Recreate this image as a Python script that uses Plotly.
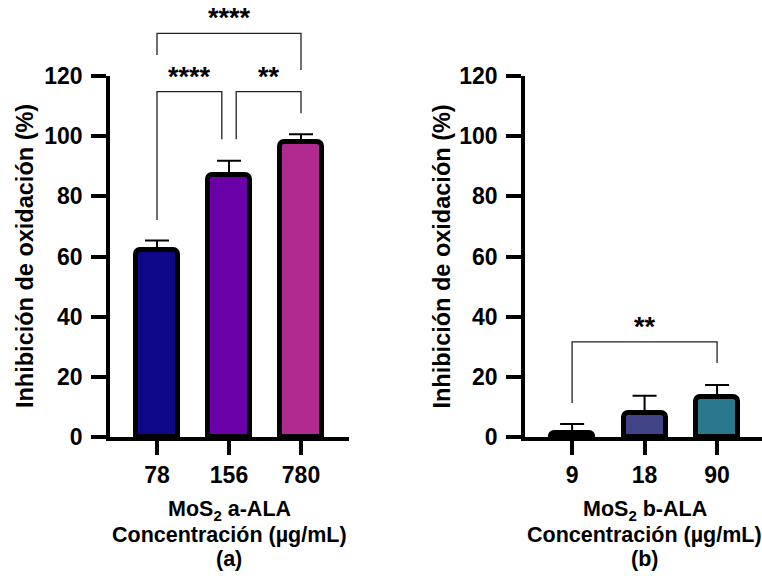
import plotly.graph_objects as go

# ---- data -------------------------------------------------------------
conc_a = ["78", "156", "780"]          # MoS2 a-ALA, µg/mL
mean_a = [62.2, 87.2, 98.1]
sd_a = [3.1, 4.6, 2.5]

conc_b = ["9", "18", "90"]             # MoS2 b-ALA, µg/mL
mean_b = [1.3, 8.1, 13.4]
sd_b = [3.0, 5.6, 3.9]

y_ticks = [0, 20, 40, 60, 80, 100, 120]

# ---- styling ------------------------------------------------------------
colors_a = ["#0d0887", "#6a00a8", "#b12a90"]
colors_b = ["#440154", "#414487", "#2a788e"]
FONT = "Liberation Sans, Arial, sans-serif"
Y_MAX = 120
Y_TITLE = "Inhibición de oxidación (%)"

# significance brackets: (axis, x_left, x_right, level, left_leg_end, right_leg_end, label)
brackets = [
    ("x", 0.0, 2.0, 134.2, 127.0, 122.0, "****"),
    ("x", 0.0, 0.9, 114.8, 72.1, 99.0, "****"),
    ("x", 1.1, 2.0, 114.8, 99.0, 107.6, "**"),
    ("x2", 0.0, 2.0, 31.6, 11.3, 24.6, "**"),
]


def bold(size):
    return dict(family=FONT, size=size, color="black", weight="bold")


def bar_trace(means, sds, colors, xaxis, yaxis):
    return go.Bar(
        x=list(range(len(means))),
        y=means,
        width=0.58,
        marker=dict(color=colors, line=dict(color="black", width=5), cornerradius=5),
        error_y=dict(type="data", array=sds, arrayminus=[0] * len(sds), symmetric=False,
                     color="black", thickness=2, width=12),
        xaxis=xaxis,
        yaxis=yaxis,
        showlegend=False,
    )


fig = go.Figure()
fig.add_trace(bar_trace(mean_a, sd_a, colors_a, "x", "y"))
fig.add_trace(bar_trace(mean_b, sd_b, colors_b, "x2", "y2"))


def x_axis(domain, rng, labels, anchor):
    return dict(domain=domain, range=rng, anchor=anchor, tickvals=list(range(len(labels))),
                ticktext=labels, ticks="outside", ticklen=14, tickwidth=4, tickcolor="black",
                showline=True, linewidth=4, linecolor="black", showgrid=False, zeroline=False,
                tickfont=bold(23), fixedrange=True)


def y_axis(anchor):
    return dict(range=[0, Y_MAX], anchor=anchor, tickvals=y_ticks, ticks="outside", ticklen=15,
                tickwidth=3.5, tickcolor="black", showline=True, linewidth=3.5, linecolor="black",
                showgrid=False, zeroline=False, tickfont=bold(23), ticklabelstandoff=4,
                fixedrange=True)


fig.update_layout(
    width=762, height=576,
    margin=dict(l=110, r=0, t=76, b=139),
    paper_bgcolor="white", plot_bgcolor="white",
    xaxis=x_axis([0, 0.3666], [-0.653, 2.667], conc_a, "y"),
    yaxis=y_axis("x"),
    xaxis2=x_axis([0.6365, 1], [-0.65, 2.62], conc_b, "y2"),
    yaxis2=y_axis("x2"),
    bargap=0,
)

# brackets and stars
for ax, x0, x1, lvl, yl, yr, label in brackets:
    p = lambda v: v / Y_MAX
    fig.add_shape(type="path", xref=ax, yref="paper",
                  path=f"M {x0},{p(yl)} L {x0},{p(lvl)} L {x1},{p(lvl)} L {x1},{p(yr)}",
                  line=dict(color="#222222", width=1.3))
    fig.add_annotation(x=(x0 + x1) / 2, xref=ax, y=p(lvl), yref="paper", yanchor="bottom",
                       yshift=-2, text=label, showarrow=False, font=bold(27))

# y-axis titles
for xpos in (-0.1311, 0.5077):
    fig.add_annotation(x=xpos, xref="paper", y=0.5, yref="paper", xanchor="center",
                       yanchor="middle", textangle=-90, text=Y_TITLE, showarrow=False,
                       font=bold(23.5))

# x-axis titles
for ax, name, tag in [("x", "a-ALA", "(a)"), ("x2", "b-ALA", "(b)")]:
    fig.add_annotation(x=1, xref=ax, y=-0.203, yref="paper", yanchor="middle",
                       text=f"MoS<sub>2</sub> {name}", showarrow=False, font=bold(21.5))
    fig.add_annotation(x=1, xref=ax, y=-0.272, yref="paper", yanchor="middle",
                       text="Concentración (µg/mL)", showarrow=False, font=bold(21.5))
    fig.add_annotation(x=1, xref=ax, y=-0.3388, yref="paper", yanchor="middle",
                       text=tag, showarrow=False, font=bold(21.5))

fig.write_html("out.html")
